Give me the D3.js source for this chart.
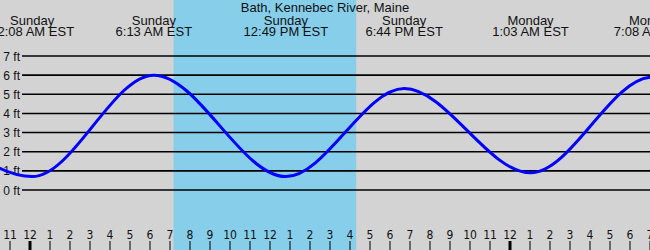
<!DOCTYPE html>
<html>
<head>
<meta charset="utf-8">
<script src="https://cdn.jsdelivr.net/npm/d3@7"></script>
<style>
  body { margin: 0; background: #d3d3d3; }
  svg { display: block; }
</style>
</head>
<body>
<div id="tides"></div>
<script>
var title = "Bath, Kennebec River, Maine";

// high / low water times and heights (ft)
var tideTimes = ["2024-01-06 17:50", "2024-01-07 00:08", "2024-01-07 06:13", "2024-01-07 12:49",
                 "2024-01-07 18:44", "2024-01-08 01:03", "2024-01-08 07:08", "2024-01-08 13:35"];
var tideHeights = [5.4, 0.7, 6.0, 0.7, 5.3, 0.9, 5.9, 0.8];
var tideLabelled = [false, true, true, true, true, true, true, false];

var sunTimes = ["2024-01-07 07:12", "2024-01-07 16:20"];
var feetTicks = [0, 1, 2, 3, 4, 5, 6, 7];

var parse = d3.timeParse("%Y-%m-%d %H:%M");
var W = 650, H = 250;

var x = d3.scaleTime()
  .domain([parse("2024-01-07 00:00"), parse("2024-01-08 00:00")])
  .range([29.5, 509.5]);
var y = d3.scaleLinear().domain([0, 7]).range([190, 56]);

var tides = tideTimes.map(function(t, i){
  return {time: parse(t), ft: tideHeights[i], label: tideLabelled[i]};
});

var svg = d3.select("#tides").append("svg")
  .attr("width", W)
  .attr("height", H);

svg.append("rect").attr("width", W).attr("height", H).attr("fill", "#d3d3d3");

// daylight band
var sun = sunTimes.map(parse);
svg.append("rect")
  .attr("x", x(sun[0]))
  .attr("width", x(sun[1]) - x(sun[0]))
  .attr("y", 0)
  .attr("height", H)
  .attr("fill", "#87ceeb");

// gridlines + ft labels
svg.selectAll("line.grid")
  .data(feetTicks)
  .enter().append("line")
  .attr("class", "grid")
  .attr("x1", 22).attr("x2", W)
  .attr("y1", function(d){ return y(d); })
  .attr("y2", function(d){ return y(d); })
  .attr("stroke", "#000")
  .attr("stroke-width", 1.6);

svg.selectAll("text.ft")
  .data(feetTicks)
  .enter().append("text")
  .attr("class", "ft")
  .attr("x", 20)
  .attr("y", function(d){ return y(d) + 4.5; })
  .attr("text-anchor", "end")
  .attr("font-family", "Liberation Sans, Arial, sans-serif")
  .attr("font-size", 12)
  .attr("fill", "#111")
  .text(function(d){ return d + " ft"; });

// tide curve
var line = d3.line()
  .x(function(d){ return x(d.time); })
  .y(function(d){ return y(d.ft); })
  .curve(d3.curveMonotoneX);

svg.append("path")
  .datum(tides)
  .attr("d", line)
  .attr("fill", "none")
  .attr("stroke", "#0000ff")
  .attr("stroke-width", 3);

// hour axis
var hours = d3.timeHour.range(parse("2024-01-06 23:00"), parse("2024-01-08 07:01"));
var axis = d3.axisTop(x)
  .tickValues(hours)
  .tickSize(9)
  .tickPadding(2)
  .tickFormat(d3.timeFormat("%-I"));

var ax = svg.append("g")
  .attr("transform", "translate(0," + H + ")")
  .call(axis);
ax.select(".domain").remove();
ax.selectAll("line")
  .attr("stroke", "#000")
  .attr("stroke-width", function(d){ return d.getHours() === 0 ? 3 : 1; });
ax.selectAll("text")
  .attr("fill", "#111")
  .attr("font-family", "Liberation Sans Narrow, DejaVu Sans Condensed, sans-serif")
  .attr("font-size", 12);

// high/low labels
var lab = svg.selectAll("g.tide")
  .data(tides.filter(function(d){ return d.label; }))
  .enter().append("g")
  .attr("class", "tide")
  .attr("transform", function(d){ return "translate(" + x(d.time) + ",0)"; })
  .attr("text-anchor", "middle")
  .attr("font-family", "Liberation Sans, Arial, sans-serif")
  .attr("font-size", 13)
  .attr("fill", "#111");

lab.append("text")
  .attr("y", 24.5)
  .text(function(d){ return d3.timeFormat("%A")(d.time); });
lab.append("text")
  .attr("y", 36)
  .text(function(d){ return d3.timeFormat("%-I:%M %p")(d.time) + " EST"; });

svg.append("text")
  .attr("x", W / 2)
  .attr("y", 12)
  .attr("text-anchor", "middle")
  .attr("font-family", "Liberation Sans, Arial, sans-serif")
  .attr("font-size", 13)
  .attr("fill", "#111")
  .text(title);
</script>
</body>
</html>
